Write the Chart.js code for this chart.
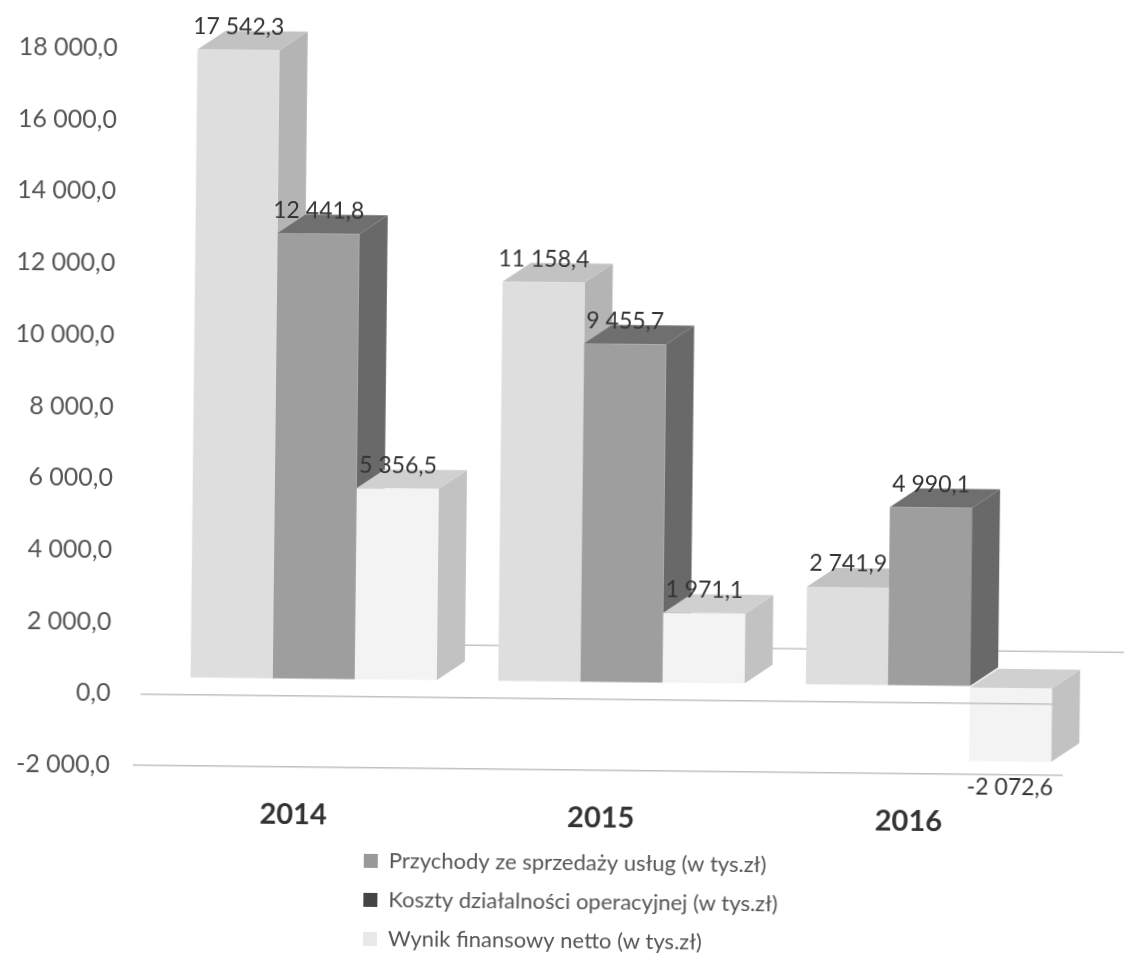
<!DOCTYPE html>
<html lang="pl">
<head>
<meta charset="utf-8">
<title>Wyniki 2014-2016</title>
<script src="https://cdn.jsdelivr.net/npm/chart.js@4"></script>
<style>
    html, body { margin: 0; padding: 0; background: #fff; overflow: hidden; }
    #wrap { width: 1126px; height: 959px; }
    /* the scan is turned a little clockwise */
    #chart { display: block; transform: rotate(0.63deg); transform-origin: 563px 480px; }
</style>
</head>
<body>
<div id="wrap"><canvas id="chart" width="1126" height="959"></canvas></div>
<script>
// Data
const years = ['2014', '2015', '2016'];
const seriesNames = [
    'Przychody ze sprzedaży usług (w tys.zł)',
    'Koszty działalności operacyjnej (w tys.zł)',
    'Wynik finansowy netto (w tys.zł)',
];
const revenue = [17542.3, 11158.4, 2741.9];
const costs = [12441.8, 9455.7, 4990.1];
const netResult = [5356.5, 1971.1, -2072.6];
const yTickLabels = [
    '-2 000,0', '0,0', '2 000,0', '4 000,0', '6 000,0', '8 000,0',
    '10 000,0', '12 000,0', '14 000,0', '16 000,0', '18 000,0',
];
const visibleGridValues = [0, -2000];

// Colours for the front, top and side of each series, then the legend swatches
const frontColors = ['#dedede', '#9e9e9e', '#f3f3f3'];
const topColors = ['#c2c2c2', '#6f6f6f', '#d0d0d0'];
const sideColors = ['#b4b4b4', '#696969', '#c2c2c2'];
const legendColors = ['#999999', '#444444', '#e8e8e8'];

// Depth of the fake 3D box and offset of the bars from the axis plane
const DEPTH_X = 28;
const DEPTH_Y = 19;
const SHIFT_X = 19;
const SHIFT_Y = -16;
const FONT = "Lato, 'Open Sans', sans-serif";

function formatValue(v) {
    const [whole, frac] = Math.abs(v).toFixed(1).split('.');
    return (v < 0 ? '-' : '') + whole.replace(/\B(?=(\d{3})+$)/g, ' ') + ',' + frac;
}

function fillFace(ctx, color, pts) {
    ctx.fillStyle = color;
    ctx.beginPath();
    pts.forEach((p, i) => (i ? ctx.lineTo(p[0], p[1]) : ctx.moveTo(p[0], p[1])));
    ctx.closePath();
    ctx.fill();
}

// Draws top and side faces behind the bar fronts, and the value labels on top
const boxPlugin = {
    id: 'box3d',
    beforeDatasetsDraw(chart) {
        const ctx = chart.ctx;
        ctx.save();
        ctx.translate(SHIFT_X, SHIFT_Y);

        // back edge of the floor
        const firstGroup = chart.getDatasetMeta(2).data[0];
        const backY = chart.scales.y.getPixelForValue(0) - 36;
        ctx.strokeStyle = '#c4c4c4';
        ctx.lineWidth = 1.5;
        ctx.beginPath();
        ctx.moveTo(firstGroup.x + firstGroup.width / 2, backY);
        ctx.lineTo(chart.width, backY);
        ctx.stroke();

        chart.data.datasets.forEach((ds, i) => {
            chart.getDatasetMeta(i).data.forEach(bar => {
                const left = bar.x - bar.width / 2;
                const right = bar.x + bar.width / 2;
                const top = Math.min(bar.y, bar.base);
                const bottom = Math.max(bar.y, bar.base);
                fillFace(ctx, sideColors[i], [
                    [right, top], [right + DEPTH_X, top - DEPTH_Y],
                    [right + DEPTH_X, bottom - DEPTH_Y], [right, bottom],
                ]);
                fillFace(ctx, topColors[i], [
                    [left, top], [left + DEPTH_X, top - DEPTH_Y],
                    [right + DEPTH_X, top - DEPTH_Y], [right, top],
                ]);
            });
        });
    },
    afterDatasetsDraw(chart) {
        const ctx = chart.ctx;
        ctx.font = '23px ' + FONT;
        ctx.fillStyle = '#333333';
        ctx.textAlign = 'center';
        ctx.textBaseline = 'middle';
        chart.data.datasets.forEach((ds, i) => {
            chart.getDatasetMeta(i).data.forEach((bar, j) => {
                const v = ds.data[j];
                ctx.fillText(formatValue(v), bar.x, v < 0 ? bar.y + 26 : bar.y - 23);
            });
        });
        ctx.restore();
    },
    // stacked legend under the axis, not inside the plot
    beforeDraw(chart) {
        const legend = chart.legend;
        legend.left = 351;
        legend.right = legend.left + legend.width;
        legend.top = 835;
        legend.bottom = legend.top + legend.height;
    },
};

new Chart(document.getElementById('chart'), {
    type: 'bar',
    data: {
        labels: years,
        datasets: [revenue, costs, netResult].map((values, i) => ({
            label: seriesNames[i],
            data: values,
            backgroundColor: frontColors[i],
            borderWidth: 0,
            categoryPercentage: 0.8,
            barPercentage: 1,
            clip: false,
        })),
    },
    options: {
        responsive: false,
        animation: false,
        events: [],
        layout: { padding: { top: 53, right: 60, left: 0, bottom: 0 } },
        scales: {
            x: {
                grid: { display: false },
                border: { display: false },
                ticks: {
                    padding: 22,
                    color: '#333333',
                    maxRotation: 0,
                    font: { family: FONT, size: 29, weight: 'bold' },
                },
                afterFit: scale => { scale.height = 189; },
            },
            y: {
                min: -2000,
                max: 18000,
                border: { display: false },
                grid: {
                    z: 1,
                    tickLength: 7,
                    lineWidth: 1.5,
                    color: c => (visibleGridValues.includes(c.tick.value) ? '#c0c0c0' : 'transparent'),
                    tickColor: c => (c.tick.value === -2000 ? '#c0c0c0' : 'transparent'),
                },
                ticks: {
                    stepSize: 2000,
                    padding: 23,
                    color: '#555555',
                    font: { family: FONT, size: 25 },
                    callback: (value, index) => yTickLabels[index],
                },
                afterFit: scale => { scale.width = 143; },
            },
        },
        plugins: {
            title: { display: false },
            tooltip: { enabled: false },
            legend: {
                position: 'chartArea',
                align: 'start',
                labels: {
                    boxWidth: 14,
                    boxHeight: 14,
                    padding: 17,
                    color: '#555555',
                    font: { family: FONT, size: 22 },
                    generateLabels: chart => chart.data.datasets.map((ds, i) => ({
                        text: ds.label,
                        fillStyle: legendColors[i],
                        strokeStyle: legendColors[i],
                        fontColor: '#555555',
                        lineWidth: 0,
                        datasetIndex: i,
                    })),
                },
            },
        },
    },
    plugins: [boxPlugin],
});
</script>
</body>
</html>
